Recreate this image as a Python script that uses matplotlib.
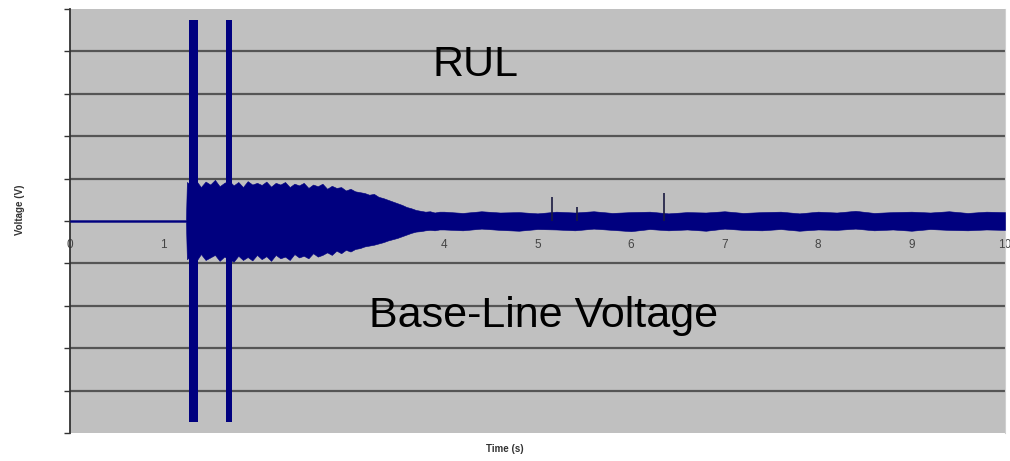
import matplotlib
matplotlib.use("Agg")
import matplotlib.pyplot as plt

plt.rcParams['font.family'] = ['Liberation Sans', 'DejaVu Sans']

t_env = [0.00, 1.24,
         1.25, 1.30, 1.35, 1.40, 1.45, 1.50, 1.55, 1.60, 1.65, 1.70, 1.75, 1.80, 1.85, 1.90, 1.95, 2.00,
         2.05, 2.10, 2.15, 2.20, 2.25, 2.30, 2.35, 2.40, 2.45, 2.50, 2.55, 2.60, 2.65, 2.70, 2.75, 2.80,
         2.85, 2.90, 2.95, 3.00,
         3.05, 3.10, 3.15, 3.20, 3.25, 3.30, 3.35, 3.40, 3.45, 3.50, 3.55, 3.60, 3.65, 3.70, 3.75, 3.80,
         3.85, 3.90, 3.95,
         4.0, 4.2, 4.4, 4.6, 4.8, 5.0, 5.2, 5.4, 5.6, 5.8, 6.0, 6.2, 6.4, 6.6, 6.8, 7.0, 7.2, 7.4, 7.6,
         7.8, 8.0, 8.2, 8.4, 8.6, 8.8, 9.0, 9.2, 9.4, 9.6, 9.8, 10.0]
v_upper = [0.02, 0.02,
           0.92, 0.84, 0.95, 0.80, 0.93, 0.86, 0.97, 0.82, 0.90, 0.95, 0.84, 0.92, 0.80, 0.94, 0.86, 0.90,
           0.85, 0.93, 0.81, 0.90, 0.86, 0.92, 0.80, 0.88, 0.84, 0.90, 0.78, 0.86, 0.82, 0.88, 0.76, 0.83,
           0.78, 0.80, 0.72, 0.76,
           0.70, 0.68, 0.66, 0.62, 0.64, 0.57, 0.54, 0.50, 0.46, 0.42, 0.38, 0.33, 0.30, 0.26, 0.24, 0.22,
           0.23, 0.20, 0.22,
           0.22, 0.19, 0.23, 0.20, 0.21, 0.18, 0.22, 0.20, 0.23, 0.19, 0.21, 0.22, 0.18, 0.21, 0.20, 0.23,
           0.19, 0.21, 0.22, 0.18, 0.22, 0.20, 0.24, 0.19, 0.21, 0.22, 0.20, 0.23, 0.19, 0.22, 0.21]
v_lower = [-0.02, -0.02,
           -0.90, -0.82, -0.95, -0.78, -0.92, -0.86, -0.80, -0.94, -0.84, -0.90, -0.96, -0.82, -0.92, -0.85,
           -0.93, -0.80,
           -0.90, -0.83, -0.94, -0.80, -0.88, -0.84, -0.92, -0.78, -0.86, -0.82, -0.88, -0.76, -0.84, -0.80,
           -0.74, -0.80, -0.70, -0.76, -0.68, -0.72,
           -0.66, -0.64, -0.60, -0.58, -0.56, -0.53, -0.50, -0.46, -0.43, -0.40, -0.36, -0.32, -0.28, -0.25,
           -0.24, -0.22, -0.21, -0.22, -0.20,
           -0.20, -0.22, -0.18, -0.21, -0.23, -0.19, -0.20, -0.22, -0.18, -0.21, -0.24, -0.19, -0.22, -0.20,
           -0.23, -0.18, -0.21, -0.22, -0.19, -0.23, -0.20, -0.21, -0.18, -0.22, -0.20, -0.23, -0.19, -0.21,
           -0.22, -0.20, -0.21]

# two large bursts at the start of the event
burst_start = [1.27, 1.67]
burst_end = [1.37, 1.73]
burst_amp = [4.74, 4.74]

# isolated spikes in the base-line region
spike_t = [5.15, 5.42, 6.35]
spike_v = [0.57, 0.33, 0.66]

x_ticks = [0, 1, 2, 3, 4, 5, 6, 7, 8, 9, 10]
y_ticks = [-5, -4, -3, -2, -1, 0, 1, 2, 3, 4, 5]
grid_levels = [-4, -3, -2, -1, 1, 2, 3, 4]

navy = '#00007f'

fig = plt.figure(figsize=(10.10, 4.61), dpi=100)
ax = fig.add_axes([70 / 1010, 1 - 433 / 461, 935 / 1010, 424 / 461])
ax.set_facecolor('#c0c0c0')

for g in grid_levels:
    ax.axhline(g, color='#555555', lw=1.6, zorder=1)

ax.fill_between(t_env, v_lower, v_upper, color=navy, lw=0.4, edgecolor=navy, zorder=3)
for t0, t1, a in zip(burst_start, burst_end, burst_amp):
    ax.fill_between([t0, t1], [-a, -a], [a, a], color=navy, lw=0, zorder=3)
ax.vlines(spike_t, 0, spike_v, color='#1a1a40', lw=1.2, zorder=3)

ax.set_xlim(0, 10)
ax.set_ylim(-5, 5)
ax.set_xticks(x_ticks)
ax.set_xticklabels([str(x) for x in x_ticks])
ax.set_yticks(y_ticks)
ax.set_yticklabels([])
ax.tick_params(axis='y', direction='out', length=4, width=1, color='#333333')
ax.tick_params(axis='x', length=0, pad=13, labelsize=8.5, labelcolor='#444444')

ax.spines['bottom'].set_position(('data', 0))
ax.spines['bottom'].set_visible(False)
ax.spines['top'].set_visible(False)
ax.spines['right'].set_color('#d0d0d0')
ax.spines['left'].set_color('#333333')
ax.spines['left'].set_linewidth(1.3)

ax.text(4.34, 3.42, 'RUL', fontsize=31, ha='center', va='baseline', zorder=4)
ax.text(5.06, -2.50, 'Base-Line Voltage', fontsize=31, ha='center', va='baseline', zorder=4)

fig.text(20 / 1010, 1 - 210 / 461, 'Voltage (V)', rotation=90, ha='center', va='center',
         fontsize=7, fontweight='bold', color='#333333')
fig.text(505 / 1010, 1 - 449 / 461, 'Time (s)', ha='center', va='center',
         fontsize=7, fontweight='bold', color='#333333')

fig.savefig('out.png', dpi=100)
